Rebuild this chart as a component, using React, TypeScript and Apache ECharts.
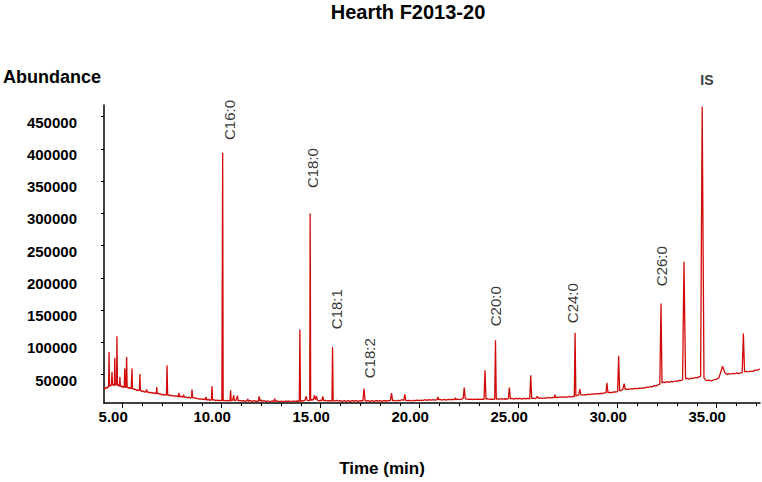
import React, { useEffect, useRef } from "react";
import * as echarts from "echarts";

const FONT = "'Liberation Sans', Arial, Helvetica, sans-serif";
const RED = "#d10a0a";

// chromatogram trace: [time (min), abundance]
const traceEarly: [number, number][] = [
  [4.06, 27500], [4.10, 29500], [4.14, 28000], [4.18, 30500], [4.22, 29000], [4.26, 31500], [4.29, 30500],
  [4.31, 85100], [4.335, 32000], [4.37, 33500], [4.40, 32000], [4.43, 35000], [4.46, 54000], [4.485, 33500],
  [4.52, 35500], [4.55, 32500], [4.58, 34500], [4.60, 76000], [4.625, 34000], [4.66, 35500], [4.69, 33000],
  [4.71, 109500], [4.735, 33500], [4.77, 34500], [4.80, 32000], [4.835, 33000], [4.86, 46300], [4.885, 31500],
  [4.92, 33000], [4.96, 30500], [5.00, 32000], [5.04, 30000], [5.08, 31000], [5.10, 59300], [5.125, 30000],
  [5.16, 30500], [5.20, 77300], [5.225, 29500], [5.27, 30500], [5.31, 28500], [5.35, 30000], [5.39, 28000],
  [5.43, 29000], [5.47, 59300], [5.495, 27500], [5.54, 28500], [5.59, 26500], [5.64, 27500], [5.69, 25500],
  [5.74, 26500], [5.79, 25000], [5.84, 26000], [5.87, 51000], [5.895, 24500], [5.94, 25500], [5.99, 23500],
  [6.05, 24500], [6.11, 22500], [6.17, 23500], [6.21, 27000], [6.24, 22500], [6.30, 23000], [6.36, 21500],
  [6.42, 22500], [6.48, 21000], [6.54, 22000], [6.60, 20500], [6.66, 21500], [6.70, 20500], [6.72, 30700],
  [6.745, 20000], [6.80, 21000], [6.86, 19500], [6.92, 20000], [6.98, 18500],
];

const traceC16: [number, number][] = [
  [7.04, 19500], [7.10, 18000], [7.16, 19000], [7.21, 18000], [7.24, 64400], [7.27, 18000], [7.33, 18500],
  [7.39, 17000], [7.46, 18000], [7.53, 16500], [7.60, 17500], [7.67, 16000], [7.74, 17000], [7.81, 15500],
  [7.84, 21500], [7.87, 15500], [7.94, 16500], [8.01, 15000], [8.06, 16000], [8.08, 19000], [8.10, 15000],
  [8.18, 15500], [8.26, 14000], [8.34, 15000], [8.42, 13500], [8.48, 14500], [8.50, 26700], [8.53, 14000],
  [8.61, 14500], [8.69, 13000], [8.77, 13000], [8.85, 12000], [8.93, 12500], [9.01, 11500], [9.09, 12000],
  [9.16, 11000], [9.21, 15200], [9.25, 10500], [9.33, 11500], [9.41, 10000], [9.48, 11000], [9.51, 32300],
  [9.54, 10500], [9.62, 11000], [9.70, 9500], [9.78, 10500], [9.86, 9500], [9.94, 10000], [10.01, 9500],
  [10.05, 394100], [10.075, 9500], [10.12, 10000], [10.20, 9000], [10.28, 10000], [10.36, 9000], [10.42, 9500],
  [10.45, 25600], [10.48, 9500], [10.55, 10000], [10.61, 17900], [10.64, 9500], [10.72, 10000], [10.80, 17100],
  [10.83, 9000], [10.92, 10000], [11.00, 9000], [11.10, 9500], [11.20, 8500], [11.29, 9500], [11.32, 12400],
  [11.35, 9000], [11.45, 9500], [11.55, 8500], [11.65, 9500], [11.75, 8500], [11.85, 9000], [11.90, 16300],
  [11.93, 9000], [11.98, 9500], [12.00, 11000], [12.03, 8500], [12.13, 9500], [12.23, 8500], [12.33, 9000],
  [12.43, 8000], [12.53, 9000], [12.63, 8500], [12.68, 12700], [12.72, 8500], [12.82, 9000], [12.92, 8000],
  [13.02, 9000], [13.12, 8000], [13.22, 9000], [13.32, 8500], [13.42, 9000], [13.52, 8000], [13.62, 9000],
  [13.72, 8500], [13.82, 9000], [13.92, 8500],
];

const traceC18: [number, number][] = [
  [13.95, 119900], [13.98, 8500], [14.05, 9500], [14.12, 9000], [14.20, 10000], [14.27, 16300], [14.32, 10000],
  [14.40, 9500], [14.445, 9500], [14.47, 300000], [14.495, 10000], [14.55, 11000], [14.62, 10500],
  [14.69, 17900], [14.73, 11000], [14.79, 16300], [14.84, 10000], [14.92, 9500], [15.00, 10000], [15.06, 9500],
  [15.11, 16300], [15.15, 9500], [15.25, 10000], [15.35, 9000], [15.45, 9500], [15.57, 9000], [15.60, 92900],
  [15.63, 9500], [15.70, 9000], [15.80, 10000], [15.90, 9000], [16.00, 9500], [16.10, 8500], [16.20, 9500],
  [16.30, 8500], [16.40, 9500], [16.50, 8500], [16.60, 9500], [16.70, 9000], [16.80, 9500], [16.90, 8500],
  [17.00, 9500], [17.13, 9000], [17.19, 28300], [17.24, 9500], [17.30, 9000], [17.40, 9500], [17.50, 8500],
  [17.60, 9500], [17.70, 8500], [17.80, 9500], [17.90, 9000], [18.00, 9500], [18.10, 8500], [18.20, 9500],
  [18.30, 9000], [18.40, 9500], [18.52, 9500], [18.58, 21400], [18.63, 9500], [18.70, 10000], [18.80, 9000],
  [18.90, 10000], [19.00, 9500], [19.10, 11000], [19.20, 10000], [19.25, 19400], [19.30, 10000], [19.38, 9500],
  [19.48, 10000], [19.58, 9000], [19.68, 10000], [19.78, 9500], [19.88, 10500], [19.98, 9500],
];

const traceC20: [number, number][] = [
  [20.08, 10500], [20.18, 10000], [20.28, 11000], [20.38, 10000], [20.48, 11000], [20.58, 10500], [20.68, 11000],
  [20.78, 10500], [20.88, 11000], [20.92, 15200], [20.96, 11000], [21.04, 11500], [21.14, 10500], [21.24, 11500],
  [21.34, 10500], [21.44, 11500], [21.54, 11000], [21.64, 11500], [21.76, 11000], [21.80, 14000], [21.84, 11000],
  [21.92, 12000], [22.02, 11000], [22.12, 12000], [22.20, 13000], [22.25, 29800], [22.30, 13000], [22.36, 12000],
  [22.46, 11500], [22.56, 12000], [22.66, 11000], [22.76, 12000], [22.86, 11500], [22.96, 12000], [23.06, 11500],
  [23.16, 12000], [23.25, 11500], [23.30, 56700], [23.35, 12000], [23.44, 12500], [23.54, 11500], [23.64, 12000],
  [23.74, 11500], [23.79, 12000], [23.83, 103300], [23.87, 12000], [23.94, 12500], [24.02, 11500], [24.12, 12500],
  [24.22, 12000], [24.32, 12500], [24.42, 12000], [24.48, 12500], [24.53, 29800], [24.58, 12500], [24.66, 13000],
  [24.76, 12000], [24.86, 13000], [24.96, 12500], [25.06, 13000], [25.16, 12000], [25.26, 13000], [25.36, 12500],
  [25.46, 13000], [25.56, 12500], [25.61, 48900], [25.66, 13000], [25.74, 13500], [25.86, 12500], [25.94, 16300],
  [26.00, 13000], [26.10, 14000], [26.20, 13000], [26.30, 14000], [26.40, 13500], [26.50, 14500], [26.60, 13500],
  [26.70, 14500], [26.79, 14000], [26.83, 18900], [26.87, 14000], [26.96, 15000], [27.06, 14500], [27.16, 15500],
  [27.26, 14500], [27.36, 15500], [27.46, 15000], [27.56, 16000], [27.66, 15000], [27.76, 16000], [27.81, 16000],
];

const traceC24: [number, number][] = [
  [27.85, 114900], [27.89, 16500], [27.96, 17500], [28.03, 18500], [28.09, 27500], [28.14, 18500], [28.22, 18000],
  [28.32, 19000], [28.42, 18500], [28.52, 19500], [28.62, 19000], [28.72, 20000], [28.82, 19500], [28.92, 20500],
  [29.02, 20000], [29.12, 21000], [29.22, 20500], [29.32, 21500], [29.41, 21500], [29.46, 37300], [29.51, 22000],
  [29.60, 22500], [29.70, 22000], [29.80, 23000], [29.92, 23000], [30.00, 23500], [30.05, 78700], [30.10, 24500],
  [30.18, 25500], [30.26, 26500], [30.33, 36000], [30.38, 27000], [30.46, 27500], [30.56, 27000], [30.66, 28000],
  [30.76, 27500], [30.86, 28500], [30.96, 28000], [31.06, 29000], [31.16, 28500], [31.26, 29500], [31.36, 29000],
  [31.46, 30500], [31.56, 30000], [31.66, 31500], [31.76, 31000], [31.86, 33000], [31.96, 32500], [32.06, 34500],
  [32.13, 35000],
];

const traceLate: [number, number][] = [
  [32.19, 160300], [32.24, 37000], [32.31, 38500], [32.39, 37500], [32.49, 39000], [32.59, 38000], [32.69, 39500],
  [32.79, 38500], [32.89, 40000], [32.99, 39500], [33.09, 41000], [33.19, 40500], [33.28, 42000], [33.35, 224900],
  [33.43, 43500], [33.51, 44000], [33.61, 43000], [33.71, 44500], [33.81, 44000], [33.91, 45500], [34.01, 45000],
  [34.11, 46500], [34.19, 47500], [34.27, 465600], [34.36, 45000], [34.43, 42000], [34.51, 40500], [34.61, 41500],
  [34.71, 40000], [34.81, 41500], [34.91, 42000], [35.01, 43000], [35.11, 45000], [35.19, 52000], [35.30, 62900],
  [35.41, 53000], [35.51, 50000], [35.61, 51500], [35.71, 50500], [35.81, 52000], [35.91, 51000], [36.01, 52500],
  [36.11, 51500], [36.21, 52500], [36.29, 53000], [36.35, 113700], [36.41, 54000], [36.50, 55000], [36.60, 54000],
  [36.70, 55500], [36.80, 54500], [36.90, 56000], [37.00, 57500], [37.08, 56500], [37.17, 59000],
];

// peak annotations (anchor = where the rotated text starts, in data units)
const peakLabelNames = ["C16:0", "C18:0", "C18:1", "C18:2", "C20:0", "C24:0", "C26:0"];
const peakLabelTimes = [10.37, 14.59, 15.82, 17.46, 23.85, 27.74, 32.21];
const peakLabelAbundance = [413900, 339300, 120400, 44300, 125000, 129700, 187100];
const standardLabel = { name: "IS", time: 34.51, abundance: 507000 };

const yTickValues = [50000, 100000, 150000, 200000, 250000, 300000, 350000, 400000, 450000];
const xTickValues = [5, 10, 15, 20, 25, 30, 35];
const xMinorTickValues = [5, 6, 7, 8, 9, 10, 11, 12, 13, 14, 15, 16, 17, 18, 19, 20, 21, 22, 23, 24, 25, 26, 27, 28, 29, 30, 31, 32, 33, 34, 35, 36, 37];

const X_MIN = 4.056;
const X_MAX = 37.19;
const Y_MIN = 5900;
const Y_MAX = 468200;

export default function App() {
  const ref = useRef<HTMLDivElement>(null);

  useEffect(() => {
    if (!ref.current) return;
    const chart = echarts.init(ref.current, null, { renderer: "svg" });
    const trace = [...traceEarly, ...traceC16, ...traceC18, ...traceC20, ...traceC24, ...traceLate];

    const labelData: any[] = peakLabelNames.map((n, i) => ({
      name: n,
      value: [peakLabelTimes[i], peakLabelAbundance[i]],
      label: {
        show: true,
        formatter: n,
        position: "inside",
        rotate: 90,
        align: "left",
        verticalAlign: "middle",
        fontFamily: FONT,
        fontSize: 15,
        color: "#000",
      },
    }));
    labelData.push({
      name: standardLabel.name,
      value: [standardLabel.time, standardLabel.abundance],
      label: {
        show: true,
        formatter: standardLabel.name,
        position: "inside",
        align: "center",
        verticalAlign: "middle",
        fontFamily: FONT,
        fontSize: 14,
        fontWeight: "bold",
        color: "#000",
      },
    });

    chart.setOption({
      animation: false,
      backgroundColor: "#ffffff",
      grid: { left: 104, right: 2, top: 105, bottom: 79, containLabel: false },
      xAxis: [
        {
          type: "value",
          min: X_MIN,
          max: X_MAX,
          axisLine: { show: true, onZero: false, lineStyle: { color: "#000", width: 1.5 } },
          axisTick: { show: true, customValues: xTickValues, length: 5, lineStyle: { color: "#000", width: 1 } },
          axisLabel: {
            show: true,
            customValues: xTickValues,
            formatter: (v: number) => v.toFixed(2),
            fontFamily: FONT,
            fontSize: 15,
            fontWeight: "bold",
            color: "#000",
            margin: 6,
            padding: [0, 19, 0, 0],
          },
          splitLine: { show: false },
        },
        {
          type: "value",
          min: X_MIN,
          max: X_MAX,
          position: "bottom",
          axisLine: { show: false },
          axisTick: { show: true, customValues: xMinorTickValues, length: 3, lineStyle: { color: "#000", width: 1 } },
          axisLabel: { show: false },
          splitLine: { show: false },
        },
      ],
      yAxis: {
        type: "value",
        min: Y_MIN,
        max: Y_MAX,
        axisLine: { show: true, onZero: false, lineStyle: { color: "#000", width: 1.5 } },
        axisTick: { show: true, customValues: yTickValues, length: 3, lineStyle: { color: "#000", width: 1 } },
        axisLabel: {
          show: true,
          customValues: yTickValues,
          formatter: (v: number) => String(v),
          fontFamily: FONT,
          fontSize: 15,
          fontWeight: "bold",
          color: "#000",
          margin: 27,
          verticalAlign: "top",
          lineHeight: 11,
        },
        splitLine: { show: false },
      },
      series: [
        {
          type: "line",
          data: trace,
          xAxisIndex: 0,
          yAxisIndex: 0,
          symbol: "none",
          showSymbol: false,
          lineStyle: { color: RED, width: 1.3 },
          clip: true,
          z: 3,
        },
        {
          type: "scatter",
          data: labelData,
          xAxisIndex: 0,
          yAxisIndex: 0,
          symbol: "circle",
          symbolSize: 1,
          itemStyle: { color: "rgba(0,0,0,0)" },
          clip: false,
          silent: true,
          z: 4,
        },
      ],
      graphic: [
        {
          type: "text",
          x: 408,
          y: 12,
          style: {
            text: "Hearth F2013-20",
            font: `bold 20px ${FONT}`,
            fill: "#000",
            align: "center",
            verticalAlign: "middle",
          },
        },
        {
          type: "text",
          x: 3,
          y: 77,
          style: {
            text: "Abundance",
            font: `bold 18px ${FONT}`,
            fill: "#000",
            align: "left",
            verticalAlign: "middle",
          },
        },
        {
          type: "text",
          x: 382,
          y: 468,
          style: {
            text: "Time (min)",
            font: `bold 17px ${FONT}`,
            fill: "#000",
            align: "center",
            verticalAlign: "middle",
          },
        },
      ],
    });

    return () => chart.dispose();
  }, []);

  return (
    <div
      ref={ref}
      style={{ position: "fixed", left: 0, top: 0, width: 762, height: 482, background: "#fff" }}
    />
  );
}
